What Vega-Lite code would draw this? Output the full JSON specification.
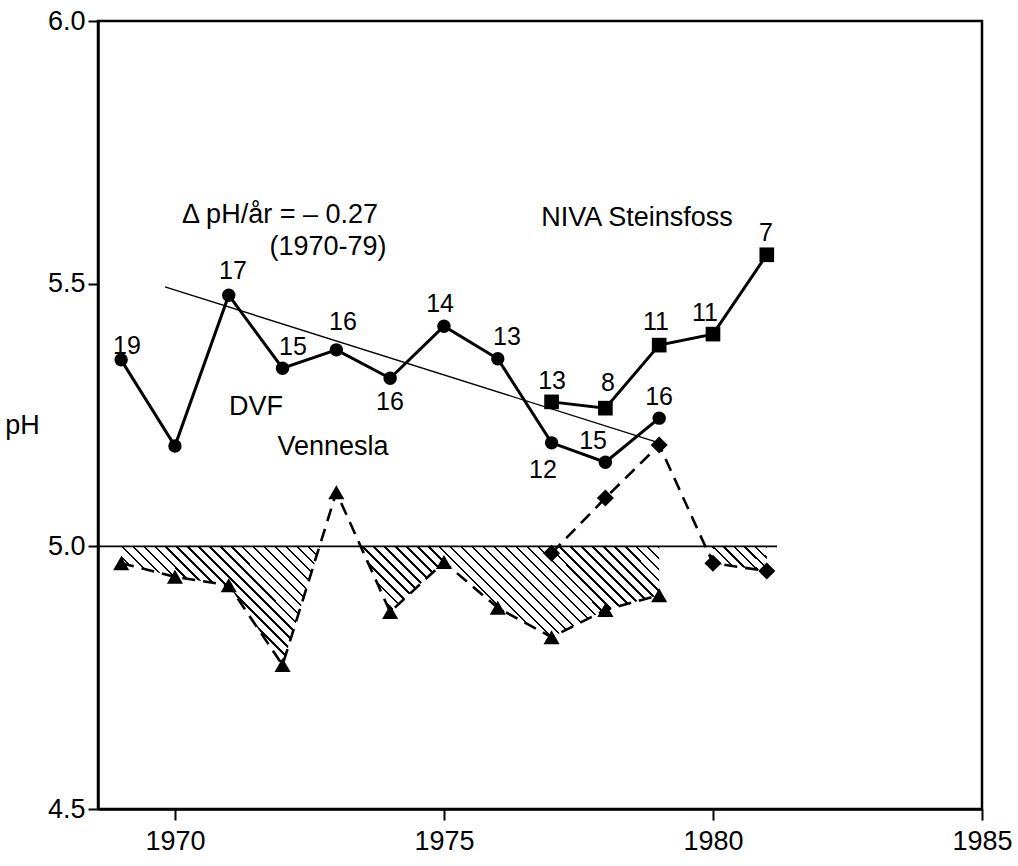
{
 "$schema": "https://vega.github.io/schema/vega-lite/v6.json",
 "width": 884, "height": 788,
 "autosize": {"type": "none"},
 "padding": {"left": 98, "top": 21, "right": 36, "bottom": 57},
 "background": "white",
 "config": {
  "font": "Liberation Sans",
  "view": {"stroke": "black", "strokeWidth": 2.5},
  "axis": {"grid": false, "domainColor": "black", "domainWidth": 2.5, "tickColor": "black", "tickWidth": 2, "labelColor": "black", "labelFont": "Liberation Sans", "labelFontSize": 27, "titleFont": "Liberation Sans", "titleColor": "black", "labelFlush": false, "labelOverlap": false}
 },
 "datasets": {
  "obs": [
   {"series": "DVF", "year": 1969, "pH": 5.355},
   {"series": "DVF", "year": 1970, "pH": 5.191},
   {"series": "DVF", "year": 1971, "pH": 5.478},
   {"series": "DVF", "year": 1972, "pH": 5.339},
   {"series": "DVF", "year": 1973, "pH": 5.374},
   {"series": "DVF", "year": 1974, "pH": 5.320},
   {"series": "DVF", "year": 1975, "pH": 5.419},
   {"series": "DVF", "year": 1976, "pH": 5.357},
   {"series": "DVF", "year": 1977, "pH": 5.197},
   {"series": "DVF", "year": 1978, "pH": 5.160},
   {"series": "DVF", "year": 1979, "pH": 5.244},
   {"series": "NIVA Steinsfoss", "year": 1977, "pH": 5.275},
   {"series": "NIVA Steinsfoss", "year": 1978, "pH": 5.263},
   {"series": "NIVA Steinsfoss", "year": 1979, "pH": 5.383},
   {"series": "NIVA Steinsfoss", "year": 1980, "pH": 5.404},
   {"series": "NIVA Steinsfoss", "year": 1981, "pH": 5.555},
   {"series": "Vennesla", "year": 1969, "pH": 4.968},
   {"series": "Vennesla", "year": 1970, "pH": 4.942},
   {"series": "Vennesla", "year": 1971, "pH": 4.926},
   {"series": "Vennesla", "year": 1972, "pH": 4.774},
   {"series": "Vennesla", "year": 1973, "pH": 5.103},
   {"series": "Vennesla", "year": 1974, "pH": 4.875},
   {"series": "Vennesla", "year": 1975, "pH": 4.970},
   {"series": "Vennesla", "year": 1976, "pH": 4.883},
   {"series": "Vennesla", "year": 1977, "pH": 4.827},
   {"series": "Vennesla", "year": 1978, "pH": 4.879},
   {"series": "Vennesla", "year": 1979, "pH": 4.907},
   {"series": "Vennesla 2", "year": 1977, "pH": 4.987},
   {"series": "Vennesla 2", "year": 1978, "pH": 5.092},
   {"series": "Vennesla 2", "year": 1979, "pH": 5.193},
   {"series": "Vennesla 2", "year": 1980, "pH": 4.968},
   {"series": "Vennesla 2", "year": 1981, "pH": 4.953}
  ],
  "hatchA": [
   {"year": 1969, "pH": 4.968},
   {"year": 1970, "pH": 4.942},
   {"year": 1971, "pH": 4.926},
   {"year": 1972, "pH": 4.774},
   {"year": 1972.696, "pH": 5.0},
   {"year": 1973.44, "pH": 5.0},
   {"year": 1974, "pH": 4.875},
   {"year": 1975, "pH": 4.970},
   {"year": 1976, "pH": 4.883},
   {"year": 1977, "pH": 4.827},
   {"year": 1978, "pH": 4.879},
   {"year": 1979, "pH": 4.907}
  ],
  "hatchB": [
   {"year": 1979.89, "pH": 5.0},
   {"year": 1980, "pH": 4.968},
   {"year": 1981, "pH": 4.953}
  ],
  "ref": [
   {"year": 1968.57, "year2": 1981.19, "pH": 5.0}
  ],
  "trend": [
   {"year": 1969.815, "pH": 5.494},
   {"year": 1979.0, "pH": 5.197}
  ],
  "counts": [
   {"label": "19", "year": 1969.109, "pH": 5.381},
   {"label": "17", "year": 1971.079, "pH": 5.524},
   {"label": "15", "year": 1972.194, "pH": 5.379},
   {"label": "16", "year": 1973.124, "pH": 5.427},
   {"label": "16", "year": 1973.997, "pH": 5.275},
   {"label": "14", "year": 1974.927, "pH": 5.461},
   {"label": "13", "year": 1976.172, "pH": 5.398},
   {"label": "12", "year": 1976.841, "pH": 5.145},
   {"label": "15", "year": 1977.771, "pH": 5.2},
   {"label": "16", "year": 1978.998, "pH": 5.284},
   {"label": "13", "year": 1977.009, "pH": 5.315},
   {"label": "8", "year": 1978.049, "pH": 5.311},
   {"label": "11", "year": 1978.941, "pH": 5.427},
   {"label": "11", "year": 1979.852, "pH": 5.444},
   {"label": "7", "year": 1980.986, "pH": 5.596}
  ],
  "notes": [
   {"label": "Δ pH/år = – 0.27", "year": 1971.953, "pH": 5.631},
   {"label": "(1970-79)", "year": 1972.845, "pH": 5.570},
   {"label": "DVF", "year": 1971.507, "pH": 5.265},
   {"label": "Vennesla", "year": 1972.938, "pH": 5.189},
   {"label": "NIVA Steinsfoss", "year": 1978.588, "pH": 5.625}
  ]
 },
 "encoding": {
  "x": {"field": "year", "type": "quantitative", "scale": {"domain": [1968.57, 1985], "nice": false, "zero": false},
        "axis": {"values": [1970, 1975, 1980, 1985], "format": "d", "tickSize": 11, "labelPadding": 8, "title": null}},
  "y": {"field": "pH", "type": "quantitative", "scale": {"domain": [4.5, 6.0], "nice": false, "zero": false},
        "axis": {"values": [4.5, 5, 5.5, 6], "format": ".1f", "tickSize": 10, "labelPadding": 3, "title": "pH", "titleAngle": 0, "titleFontSize": 27, "titleFontWeight": "normal", "titleX": -76, "titleY": 404, "titleAlign": "center", "titleBaseline": "middle"}}
 },
 "layer": [
  {
   "data": {"name": "hatchA"},
   "mark": {"type": "area", "opacity": 1, "fill": {"gradient": "linear", "x1": 0, "y1": 1, "x2": 1.1639, "y2": 0.7434, "stops": [
    {"offset":0,"color":"#fff"},{"offset":0.013,"color":"#fff"},{"offset":0.013,"color":"#000"},{"offset":0.0167,"color":"#000"},
    {"offset":0.0167,"color":"#fff"},{"offset":0.0297,"color":"#fff"},{"offset":0.0297,"color":"#000"},{"offset":0.0333,"color":"#000"},
    {"offset":0.0333,"color":"#fff"},{"offset":0.0463,"color":"#fff"},{"offset":0.0463,"color":"#000"},{"offset":0.05,"color":"#000"},
    {"offset":0.05,"color":"#fff"},{"offset":0.063,"color":"#fff"},{"offset":0.063,"color":"#000"},{"offset":0.0667,"color":"#000"},
    {"offset":0.0667,"color":"#fff"},{"offset":0.0797,"color":"#fff"},{"offset":0.0797,"color":"#000"},{"offset":0.0833,"color":"#000"},
    {"offset":0.0833,"color":"#fff"},{"offset":0.0963,"color":"#fff"},{"offset":0.0963,"color":"#000"},{"offset":0.1,"color":"#000"},
    {"offset":0.1,"color":"#fff"},{"offset":0.113,"color":"#fff"},{"offset":0.113,"color":"#000"},{"offset":0.1167,"color":"#000"},
    {"offset":0.1167,"color":"#fff"},{"offset":0.1297,"color":"#fff"},{"offset":0.1297,"color":"#000"},{"offset":0.1333,"color":"#000"},
    {"offset":0.1333,"color":"#fff"},{"offset":0.1463,"color":"#fff"},{"offset":0.1463,"color":"#000"},{"offset":0.15,"color":"#000"},
    {"offset":0.15,"color":"#fff"},{"offset":0.163,"color":"#fff"},{"offset":0.163,"color":"#000"},{"offset":0.1667,"color":"#000"},
    {"offset":0.1667,"color":"#fff"},{"offset":0.1797,"color":"#fff"},{"offset":0.1797,"color":"#000"},{"offset":0.1833,"color":"#000"},
    {"offset":0.1833,"color":"#fff"},{"offset":0.1963,"color":"#fff"},{"offset":0.1963,"color":"#000"},{"offset":0.2,"color":"#000"},
    {"offset":0.2,"color":"#fff"},{"offset":0.213,"color":"#fff"},{"offset":0.213,"color":"#000"},{"offset":0.2167,"color":"#000"},
    {"offset":0.2167,"color":"#fff"},{"offset":0.2297,"color":"#fff"},{"offset":0.2297,"color":"#000"},{"offset":0.2333,"color":"#000"},
    {"offset":0.2333,"color":"#fff"},{"offset":0.2463,"color":"#fff"},{"offset":0.2463,"color":"#000"},{"offset":0.25,"color":"#000"},
    {"offset":0.25,"color":"#fff"},{"offset":0.263,"color":"#fff"},{"offset":0.263,"color":"#000"},{"offset":0.2667,"color":"#000"},
    {"offset":0.2667,"color":"#fff"},{"offset":0.2797,"color":"#fff"},{"offset":0.2797,"color":"#000"},{"offset":0.2833,"color":"#000"},
    {"offset":0.2833,"color":"#fff"},{"offset":0.2963,"color":"#fff"},{"offset":0.2963,"color":"#000"},{"offset":0.3,"color":"#000"},
    {"offset":0.3,"color":"#fff"},{"offset":0.313,"color":"#fff"},{"offset":0.313,"color":"#000"},{"offset":0.3167,"color":"#000"},
    {"offset":0.3167,"color":"#fff"},{"offset":0.3297,"color":"#fff"},{"offset":0.3297,"color":"#000"},{"offset":0.3333,"color":"#000"},
    {"offset":0.3333,"color":"#fff"},{"offset":0.3463,"color":"#fff"},{"offset":0.3463,"color":"#000"},{"offset":0.35,"color":"#000"},
    {"offset":0.35,"color":"#fff"},{"offset":0.363,"color":"#fff"},{"offset":0.363,"color":"#000"},{"offset":0.3667,"color":"#000"},
    {"offset":0.3667,"color":"#fff"},{"offset":0.3797,"color":"#fff"},{"offset":0.3797,"color":"#000"},{"offset":0.3833,"color":"#000"},
    {"offset":0.3833,"color":"#fff"},{"offset":0.3963,"color":"#fff"},{"offset":0.3963,"color":"#000"},{"offset":0.4,"color":"#000"},
    {"offset":0.4,"color":"#fff"},{"offset":0.413,"color":"#fff"},{"offset":0.413,"color":"#000"},{"offset":0.4167,"color":"#000"},
    {"offset":0.4167,"color":"#fff"},{"offset":0.4297,"color":"#fff"},{"offset":0.4297,"color":"#000"},{"offset":0.4333,"color":"#000"},
    {"offset":0.4333,"color":"#fff"},{"offset":0.4463,"color":"#fff"},{"offset":0.4463,"color":"#000"},{"offset":0.45,"color":"#000"},
    {"offset":0.45,"color":"#fff"},{"offset":0.463,"color":"#fff"},{"offset":0.463,"color":"#000"},{"offset":0.4667,"color":"#000"},
    {"offset":0.4667,"color":"#fff"},{"offset":0.4797,"color":"#fff"},{"offset":0.4797,"color":"#000"},{"offset":0.4833,"color":"#000"},
    {"offset":0.4833,"color":"#fff"},{"offset":0.4963,"color":"#fff"},{"offset":0.4963,"color":"#000"},{"offset":0.5,"color":"#000"},
    {"offset":0.5,"color":"#fff"},{"offset":0.513,"color":"#fff"},{"offset":0.513,"color":"#000"},{"offset":0.5167,"color":"#000"},
    {"offset":0.5167,"color":"#fff"},{"offset":0.5297,"color":"#fff"},{"offset":0.5297,"color":"#000"},{"offset":0.5333,"color":"#000"},
    {"offset":0.5333,"color":"#fff"},{"offset":0.5463,"color":"#fff"},{"offset":0.5463,"color":"#000"},{"offset":0.55,"color":"#000"},
    {"offset":0.55,"color":"#fff"},{"offset":0.563,"color":"#fff"},{"offset":0.563,"color":"#000"},{"offset":0.5667,"color":"#000"},
    {"offset":0.5667,"color":"#fff"},{"offset":0.5797,"color":"#fff"},{"offset":0.5797,"color":"#000"},{"offset":0.5833,"color":"#000"},
    {"offset":0.5833,"color":"#fff"},{"offset":0.5963,"color":"#fff"},{"offset":0.5963,"color":"#000"},{"offset":0.6,"color":"#000"},
    {"offset":0.6,"color":"#fff"},{"offset":0.613,"color":"#fff"},{"offset":0.613,"color":"#000"},{"offset":0.6167,"color":"#000"},
    {"offset":0.6167,"color":"#fff"},{"offset":0.6297,"color":"#fff"},{"offset":0.6297,"color":"#000"},{"offset":0.6333,"color":"#000"},
    {"offset":0.6333,"color":"#fff"},{"offset":0.6463,"color":"#fff"},{"offset":0.6463,"color":"#000"},{"offset":0.65,"color":"#000"},
    {"offset":0.65,"color":"#fff"},{"offset":0.663,"color":"#fff"},{"offset":0.663,"color":"#000"},{"offset":0.6667,"color":"#000"},
    {"offset":0.6667,"color":"#fff"},{"offset":0.6797,"color":"#fff"},{"offset":0.6797,"color":"#000"},{"offset":0.6833,"color":"#000"},
    {"offset":0.6833,"color":"#fff"},{"offset":0.6963,"color":"#fff"},{"offset":0.6963,"color":"#000"},{"offset":0.7,"color":"#000"},
    {"offset":0.7,"color":"#fff"},{"offset":0.713,"color":"#fff"},{"offset":0.713,"color":"#000"},{"offset":0.7167,"color":"#000"},
    {"offset":0.7167,"color":"#fff"},{"offset":0.7297,"color":"#fff"},{"offset":0.7297,"color":"#000"},{"offset":0.7333,"color":"#000"},
    {"offset":0.7333,"color":"#fff"},{"offset":0.7463,"color":"#fff"},{"offset":0.7463,"color":"#000"},{"offset":0.75,"color":"#000"},
    {"offset":0.75,"color":"#fff"},{"offset":0.763,"color":"#fff"},{"offset":0.763,"color":"#000"},{"offset":0.7667,"color":"#000"},
    {"offset":0.7667,"color":"#fff"},{"offset":0.7797,"color":"#fff"},{"offset":0.7797,"color":"#000"},{"offset":0.7833,"color":"#000"},
    {"offset":0.7833,"color":"#fff"},{"offset":0.7963,"color":"#fff"},{"offset":0.7963,"color":"#000"},{"offset":0.8,"color":"#000"},
    {"offset":0.8,"color":"#fff"},{"offset":0.813,"color":"#fff"},{"offset":0.813,"color":"#000"},{"offset":0.8167,"color":"#000"},
    {"offset":0.8167,"color":"#fff"},{"offset":0.8297,"color":"#fff"},{"offset":0.8297,"color":"#000"},{"offset":0.8333,"color":"#000"},
    {"offset":0.8333,"color":"#fff"},{"offset":0.8463,"color":"#fff"},{"offset":0.8463,"color":"#000"},{"offset":0.85,"color":"#000"},
    {"offset":0.85,"color":"#fff"},{"offset":0.863,"color":"#fff"},{"offset":0.863,"color":"#000"},{"offset":0.8667,"color":"#000"},
    {"offset":0.8667,"color":"#fff"},{"offset":0.8797,"color":"#fff"},{"offset":0.8797,"color":"#000"},{"offset":0.8833,"color":"#000"},
    {"offset":0.8833,"color":"#fff"},{"offset":0.8963,"color":"#fff"},{"offset":0.8963,"color":"#000"},{"offset":0.9,"color":"#000"},
    {"offset":0.9,"color":"#fff"},{"offset":0.913,"color":"#fff"},{"offset":0.913,"color":"#000"},{"offset":0.9167,"color":"#000"},
    {"offset":0.9167,"color":"#fff"},{"offset":0.9297,"color":"#fff"},{"offset":0.9297,"color":"#000"},{"offset":0.9333,"color":"#000"},
    {"offset":0.9333,"color":"#fff"},{"offset":0.9463,"color":"#fff"},{"offset":0.9463,"color":"#000"},{"offset":0.95,"color":"#000"},
    {"offset":0.95,"color":"#fff"},{"offset":0.963,"color":"#fff"},{"offset":0.963,"color":"#000"},{"offset":0.9667,"color":"#000"},
    {"offset":0.9667,"color":"#fff"},{"offset":0.9797,"color":"#fff"},{"offset":0.9797,"color":"#000"},{"offset":0.9833,"color":"#000"},
    {"offset":0.9833,"color":"#fff"},{"offset":0.9963,"color":"#fff"},{"offset":0.9963,"color":"#000"},{"offset":1,"color":"#000"}
   ]}},
   "encoding": {"y2": {"datum": 5.0}}
  },
  {
   "data": {"name": "hatchB"},
   "mark": {"type": "area", "opacity": 1, "fill": {"gradient": "linear", "x1": 0, "y1": 1, "x2": 1.207, "y2": 0.4921, "stops": [
    {"offset":0,"color":"#fff"},{"offset":0.096,"color":"#fff"},{"offset":0.096,"color":"#000"},{"offset":0.125,"color":"#000"},
    {"offset":0.125,"color":"#fff"},{"offset":0.221,"color":"#fff"},{"offset":0.221,"color":"#000"},{"offset":0.25,"color":"#000"},
    {"offset":0.25,"color":"#fff"},{"offset":0.346,"color":"#fff"},{"offset":0.346,"color":"#000"},{"offset":0.375,"color":"#000"},
    {"offset":0.375,"color":"#fff"},{"offset":0.471,"color":"#fff"},{"offset":0.471,"color":"#000"},{"offset":0.5,"color":"#000"},
    {"offset":0.5,"color":"#fff"},{"offset":0.596,"color":"#fff"},{"offset":0.596,"color":"#000"},{"offset":0.625,"color":"#000"},
    {"offset":0.625,"color":"#fff"},{"offset":0.721,"color":"#fff"},{"offset":0.721,"color":"#000"},{"offset":0.75,"color":"#000"},
    {"offset":0.75,"color":"#fff"},{"offset":0.846,"color":"#fff"},{"offset":0.846,"color":"#000"},{"offset":0.875,"color":"#000"},
    {"offset":0.875,"color":"#fff"},{"offset":0.971,"color":"#fff"},{"offset":0.971,"color":"#000"},{"offset":1,"color":"#000"}
   ]}},
   "encoding": {"y2": {"datum": 5.0}}
  },
  {
   "data": {"name": "ref"},
   "mark": {"type": "rule", "color": "black", "strokeWidth": 1.8},
   "encoding": {"x2": {"field": "year2"}}
  },
  {
   "data": {"name": "trend"},
   "mark": {"type": "line", "color": "black", "strokeWidth": 1.4},
   "encoding": {}
  },
  {
   "data": {"name": "obs"},
   "transform": [{"filter": "datum.series === 'Vennesla'"}],
   "mark": {"type": "line", "color": "black", "strokeWidth": 2.6, "strokeDash": [13, 8]},
   "encoding": {}
  },
  {
   "data": {"name": "obs"},
   "transform": [{"filter": "datum.series === 'Vennesla'"}],
   "mark": {"type": "point", "shape": "triangle-up", "size": 260, "filled": true, "color": "black", "opacity": 1},
   "encoding": {}
  },
  {
   "data": {"name": "obs"},
   "transform": [{"filter": "datum.series === 'Vennesla 2'"}],
   "mark": {"type": "line", "color": "black", "strokeWidth": 2.6, "strokeDash": [13, 8]},
   "encoding": {}
  },
  {
   "data": {"name": "obs"},
   "transform": [{"filter": "datum.series === 'Vennesla 2'"}],
   "mark": {"type": "point", "shape": "diamond", "size": 290, "filled": true, "color": "black", "opacity": 1},
   "encoding": {}
  },
  {
   "data": {"name": "obs"},
   "transform": [{"filter": "datum.series === 'DVF'"}],
   "mark": {"type": "line", "color": "black", "strokeWidth": 3},
   "encoding": {}
  },
  {
   "data": {"name": "obs"},
   "transform": [{"filter": "datum.series === 'DVF'"}],
   "mark": {"type": "point", "shape": "circle", "size": 180, "filled": true, "color": "black", "opacity": 1},
   "encoding": {}
  },
  {
   "data": {"name": "obs"},
   "transform": [{"filter": "datum.series === 'NIVA Steinsfoss'"}],
   "mark": {"type": "line", "color": "black", "strokeWidth": 3},
   "encoding": {}
  },
  {
   "data": {"name": "obs"},
   "transform": [{"filter": "datum.series === 'NIVA Steinsfoss'"}],
   "mark": {"type": "point", "shape": "square", "size": 215, "filled": true, "color": "black", "opacity": 1},
   "encoding": {}
  },
  {
   "data": {"name": "counts"},
   "mark": {"type": "text", "font": "Liberation Sans", "fontSize": 25, "color": "black", "align": "center", "baseline": "middle"},
   "encoding": {"text": {"field": "label"}}
  },
  {
   "data": {"name": "notes"},
   "mark": {"type": "text", "font": "Liberation Sans", "fontSize": 27, "color": "black", "align": "center", "baseline": "middle"},
   "encoding": {"text": {"field": "label"}}
  }
 ]
}
